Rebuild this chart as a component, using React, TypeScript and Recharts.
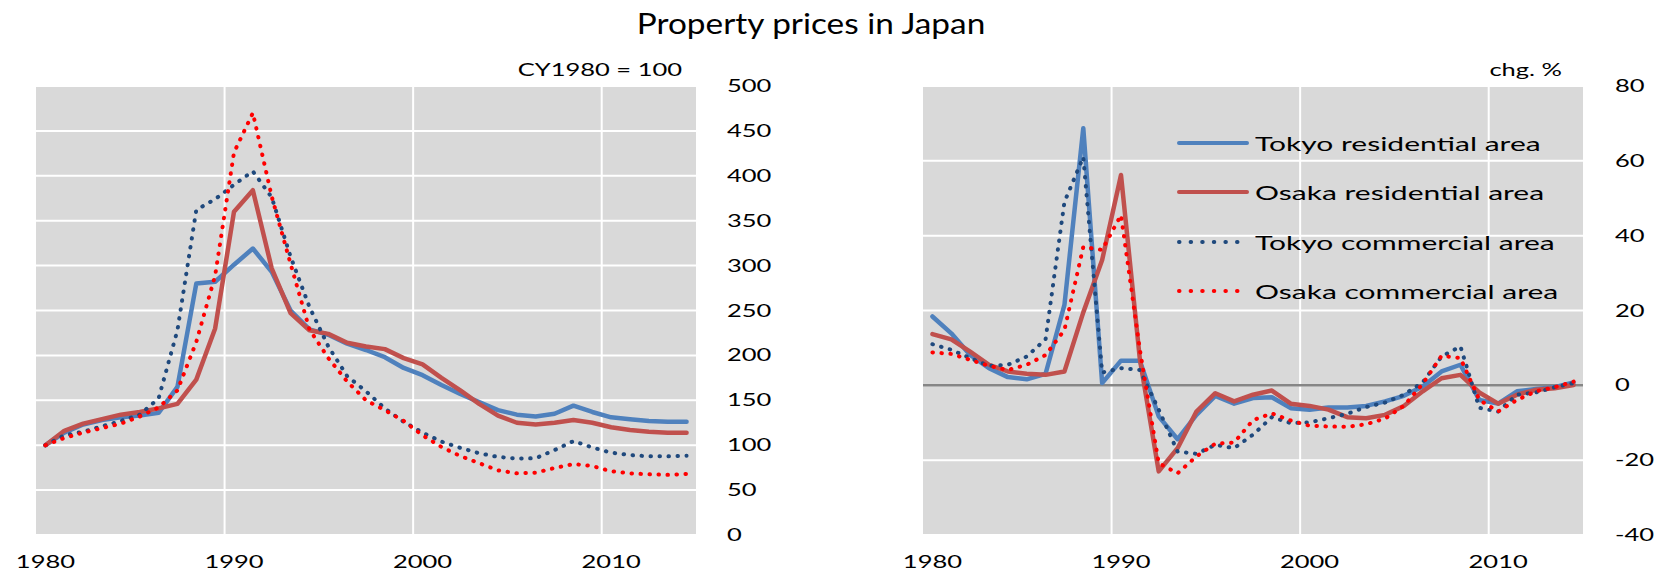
import React from "react";
import { LineChart, Line, XAxis, YAxis, CartesianGrid, Legend } from "recharts";

// calendar years, one point per year (plotted mid-year like the Excel category axis)
const years = [
  1980, 1981, 1982, 1983, 1984, 1985, 1986, 1987, 1988, 1989,
  1990, 1991, 1992, 1993, 1994, 1995, 1996, 1997, 1998, 1999,
  2000, 2001, 2002, 2003, 2004, 2005, 2006, 2007, 2008, 2009,
  2010, 2011, 2012, 2013, 2014,
];

// index, CY1980 = 100
const tokyoResIndex = [
  100, 114, 123, 128, 131, 133, 136, 165, 280, 282,
  301, 319, 293, 250, 229, 223, 213, 206, 198, 186,
  178, 167, 157, 148, 139, 134, 132, 135, 144, 137,
  131, 129, 127, 126, 126,
];
const osakaResIndex = [
  100, 116, 124, 129, 134, 137, 141, 146, 173, 230,
  360, 384, 297, 247, 228, 224, 214, 210, 207, 197,
  190, 175, 161, 146, 133, 125, 123, 125, 128, 125,
  120, 117, 115, 114, 114,
];
const tokyoComIndex = [
  100, 111, 115, 121, 127, 134, 152, 228, 362, 374,
  390, 405, 376, 310, 254, 210, 177, 160, 141, 126,
  114, 104, 97, 91, 87, 85, 85.5, 94.6, 104.6, 97.5,
  91.7, 89, 87.6, 87.6, 88.3,
];
const osakaComIndex = [
  100, 108, 114, 119, 124, 132, 142, 161, 215, 289,
  426, 470, 377, 302, 229, 197, 171, 150, 139, 127,
  111, 98, 88, 80, 72, 68.7, 69.4, 74.6, 79, 76.8,
  71, 68.7, 67.6, 67, 68,
];

// annual change, %
const tokyoResChg = [
  18.4, 13.9, 8.1, 4.6, 2.2, 1.6, 3.1, 21.5, 68.7, 0.6,
  6.6, 6.6, -8.3, -14.4, -7.9, -2.8, -4.9, -3.4, -3.2, -6.1,
  -6.5, -5.9, -5.9, -5.5, -4.3, -2.8, -0.3, 3.7, 5.5, -3.9,
  -4.9, -1.6, -1, -0.5, 0.8,
];
const osakaResChg = [
  13.7, 12.3, 9, 5.5, 3.7, 3.1, 2.8, 3.7, 19.5, 33.5,
  56.2, 7, -23, -16.8, -7, -2.1, -4.3, -2.5, -1.4, -4.9,
  -5.5, -6.5, -8.5, -8.8, -7.9, -5.5, -1.6, 1.9, 2.8, -1.9,
  -4.9, -2.5, -1.2, -0.8, 0.1,
];
const tokyoComChg = [
  11, 9.5, 7.3, 5.2, 5.5, 7.7, 12.3, 49, 61, 3.4,
  4.6, 4.1, -6.5, -17.7, -18.3, -15.9, -16.8, -13.2, -8.5, -10.1,
  -9.9, -8.8, -7.6, -5.8, -4.6, -2.5, 0.8, 7.7, 10.4, -6,
  -7, -2.5, -1.9, -0.5, 0.6,
];
const osakaComChg = [
  8.8, 8.4, 6.8, 5.2, 4.1, 5.5, 8.1, 14.8, 37, 36.2,
  45.5, 9.5, -20.8, -23.5, -19, -15.6, -15.3, -9.3, -7.5, -9.4,
  -10.8, -11, -11.1, -10.4, -8.9, -5.5, 0.4, 7.9, 7.3, -3.9,
  -7, -3.9, -1.6, -0.5, 1,
];

const yearTicks = [1980, 1990, 2000, 2010];
const indexTicks = [0, 50, 100, 150, 200, 250, 300, 350, 400, 450, 500];
const chgTicks = [-40, -20, 0, 20, 40, 60, 80];

const series = [
  { key: "tokyoRes", name: "Tokyo residential area", color: "#4F81BD", dotted: false },
  { key: "osakaRes", name: "Osaka residential area", color: "#C0504D", dotted: false },
  { key: "tokyoCom", name: "Tokyo commercial area", color: "#1F497D", dotted: true },
  { key: "osakaCom", name: "Osaka commercial area", color: "#FF0000", dotted: true },
];

const indexData = years.map((y, i) => ({
  pos: y + 0.5,
  tokyoRes: tokyoResIndex[i],
  osakaRes: osakaResIndex[i],
  tokyoCom: tokyoComIndex[i],
  osakaCom: osakaComIndex[i],
}));

const chgData = years.map((y, i) => ({
  pos: y + 0.5,
  tokyoRes: tokyoResChg[i],
  osakaRes: osakaResChg[i],
  tokyoCom: tokyoComChg[i],
  osakaCom: osakaComChg[i],
}));

const FONT = "Lato, 'Open Sans', sans-serif";
const STRETCH = 1.5; // the original graphic is stretched sideways

function YearTick({ x, y, payload }: any) {
  return (
    <g transform={`translate(${x},${y})`}>
      <text transform={`scale(${STRETCH},1)`} textAnchor="middle" dy={33} fontFamily={FONT} fontSize={17} fill="#000">
        {Math.floor(payload.value)}
      </text>
    </g>
  );
}

function ValueTick({ x, y, payload }: any) {
  return (
    <g transform={`translate(${x},${y})`}>
      <text transform={`scale(${STRETCH},1)`} textAnchor="start" dy={6} fontFamily={FONT} fontSize={17} fill="#000">
        {payload.value}
      </text>
    </g>
  );
}

function LegendBox() {
  return (
    <div style={{ fontFamily: FONT }}>
      {series.map((s) => (
        <div key={s.key} style={{ display: "flex", alignItems: "center", height: 49.5, whiteSpace: "nowrap" }}>
          <svg width={72} height={10}>
            <line
              x1={2}
              x2={s.dotted ? 62 : 70}
              y1={5}
              y2={5}
              stroke={s.color}
              strokeWidth={4}
              strokeLinecap="round"
              strokeDasharray={s.dotted ? "0.5 11.1" : undefined}
            />
          </svg>
          <span
            style={{
              display: "inline-block",
              marginLeft: 6,
              fontSize: 20,
              color: "#000",
              transform: `scaleX(${STRETCH})`,
              transformOrigin: "left center",
            }}
          >
            {s.name}
          </span>
        </div>
      ))}
    </div>
  );
}

function renderLines() {
  return series.map((s) => (
    <Line
      key={s.key}
      type="linear"
      dataKey={s.key}
      name={s.name}
      stroke={s.color}
      strokeWidth={s.dotted ? 4 : 4.5}
      strokeDasharray={s.dotted ? "0.5 8.5" : undefined}
      strokeLinecap="round"
      strokeLinejoin="round"
      dot={false}
      activeDot={false}
      isAnimationActive={false}
    />
  ));
}

export default function App() {
  return (
    <div style={{ position: "absolute", left: 0, top: 0, width: 1665, height: 571, background: "#fff" }}>
      <div style={{ position: "absolute", left: 0, top: 0 }}>
        <LineChart width={800} height={571} data={indexData} margin={{ top: 86, right: 0, bottom: 0, left: 36 }}>
          <CartesianGrid fill="#D9D9D9" stroke="#FFFFFF" strokeWidth={2} verticalValues={[1990, 2000, 2010]} />
          <XAxis
            dataKey="pos"
            type="number"
            domain={[1980, 2015]}
            ticks={yearTicks.map((t) => t + 0.5)}
            axisLine={false}
            tickLine={false}
            tickSize={0}
            tickMargin={0}
            height={36}
            tick={<YearTick />}
          />
          <YAxis
            orientation="right"
            domain={[0, 500]}
            ticks={indexTicks}
            axisLine={false}
            tickLine={false}
            tickSize={0}
            tickMargin={31}
            width={104}
            tick={<ValueTick />}
          />
          {renderLines()}
        </LineChart>
      </div>

      <div style={{ position: "absolute", left: 840, top: 0 }}>
        <LineChart width={825} height={571} data={chgData} margin={{ top: 86, right: 0, bottom: 0, left: 83 }}>
          <CartesianGrid fill="#D9D9D9" stroke="#FFFFFF" strokeWidth={2} verticalValues={[1990, 2000, 2010]} />
          <CartesianGrid fill="none" stroke="#868686" strokeWidth={2.5} vertical={false} horizontalValues={[0]} />
          <XAxis
            dataKey="pos"
            type="number"
            domain={[1980, 2015]}
            ticks={yearTicks.map((t) => t + 0.5)}
            axisLine={false}
            tickLine={false}
            tickSize={0}
            tickMargin={0}
            height={36}
            tick={<YearTick />}
          />
          <YAxis
            orientation="right"
            domain={[-40, 80]}
            ticks={chgTicks}
            axisLine={false}
            tickLine={false}
            tickSize={0}
            tickMargin={32}
            width={82}
            tick={<ValueTick />}
          />
          {renderLines()}
          <Legend
            layout="vertical"
            align="center"
            verticalAlign="middle"
            content={() => <LegendBox />}
            wrapperStyle={{ left: 337, top: 118, width: 400, height: 200 }}
          />
        </LineChart>
      </div>

      <svg width={1665} height={571} style={{ position: "absolute", left: 0, top: 0, pointerEvents: "none" }}>
        <g transform="translate(811,34)">
          <text transform="scale(1.15,1)" textAnchor="middle" fontFamily={FONT} fontSize={29} fill="#000">
            Property prices in Japan
          </text>
        </g>
        <g transform="translate(682,76)">
          <text transform={`scale(${STRETCH},1)`} textAnchor="end" fontFamily={FONT} fontSize={17} fill="#000">
            CY1980 = 100
          </text>
        </g>
        <g transform="translate(1562,76)">
          <text transform={`scale(${STRETCH},1)`} textAnchor="end" fontFamily={FONT} fontSize={17} fill="#000">
            chg. %
          </text>
        </g>
      </svg>
    </div>
  );
}
